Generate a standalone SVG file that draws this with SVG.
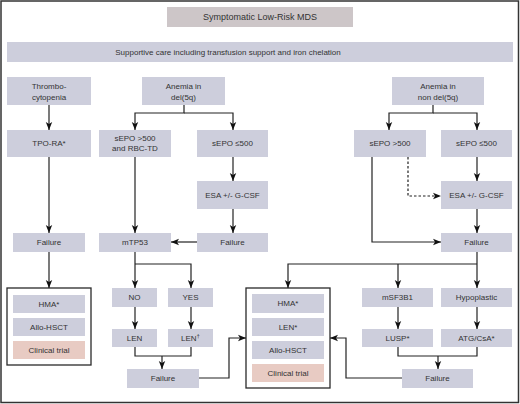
<svg xmlns="http://www.w3.org/2000/svg" width="520" height="404" viewBox="0 0 520 404">
<style>
.n{fill:#cdcedc}
.t{fill:#cdc6c8}
.p{fill:#e8cbc3}
.o{fill:#fff;stroke:#2a2a2a;stroke-width:1.3}
text{font-family:"Liberation Sans",Arial,sans-serif;font-size:8px;fill:#333;text-anchor:middle;dominant-baseline:central}
.c path{fill:none;stroke:#222;stroke-width:1.2}
.d{stroke-dasharray:2.5,2}
</style>
<defs>
<marker id="a" markerUnits="userSpaceOnUse" markerWidth="8" markerHeight="8" viewBox="0 0 8 8" refX="8" refY="4" orient="auto">
<path d="M0,0.8 L8,4 L0,7.2 L2,4 Z" fill="#111"/>
</marker>
</defs>
<rect x="1" y="1" width="517.5" height="401.5" fill="#fff" stroke="#333" stroke-width="1.5"/>
<g id="title"><rect class="t" x="167" y="7" width="186" height="20"/><text x="260" y="17" style="font-size:9px">Symptomatic Low-Risk MDS</text></g>
<g id="supportive"><rect class="n" x="7" y="42" width="506" height="20"/><text x="228" y="52">Supportive care including transfusion support and iron chelation</text></g>
<g id="thrombo"><rect class="n" x="7" y="77" width="84" height="28"/><text x="49" y="86">Thrombo-</text><text x="49" y="97">cytopenia</text></g>
<g id="anemia-del5q"><rect class="n" x="142" y="77" width="83" height="28"/><text x="183.5" y="86">Anemia in</text><text x="183.5" y="97">del(5q)</text></g>
<g id="anemia-nondel5q"><rect class="n" x="392" y="77" width="92" height="28"/><text x="438" y="86">Anemia in</text><text x="438" y="97">non del(5q)</text></g>
<g id="tpo"><rect class="n" x="7" y="130" width="84" height="27"/><text x="49" y="143.5">TPO-RA*</text></g>
<g id="sepo-high-del"><rect class="n" x="99" y="130" width="72" height="27"/><text x="135" y="138">sEPO &gt;500</text><text x="135" y="148">and RBC-TD</text></g>
<g id="sepo-low-del"><rect class="n" x="197" y="130" width="71" height="27"/><text x="232.5" y="143.5">sEPO ≤500</text></g>
<g id="sepo-high-non"><rect class="n" x="354" y="130" width="72" height="27"/><text x="390" y="143.5">sEPO &gt;500</text></g>
<g id="sepo-low-non"><rect class="n" x="441" y="130" width="71" height="27"/><text x="476.5" y="143.5">sEPO ≤500</text></g>
<g id="esa-del"><rect class="n" x="197" y="181" width="71" height="28"/><text x="232.5" y="195">ESA +/- G-CSF</text></g>
<g id="esa-non"><rect class="n" x="441" y="181" width="71" height="28"/><text x="476.5" y="195">ESA +/- G-CSF</text></g>
<g id="failure-thrombo"><rect class="n" x="13" y="233" width="72" height="19"/><text x="49" y="242.5">Failure</text></g>
<g id="mtp53"><rect class="n" x="99" y="233" width="72" height="19"/><text x="135" y="242.5">mTP53</text></g>
<g id="failure-del"><rect class="n" x="197" y="233" width="71" height="19"/><text x="232.5" y="242.5">Failure</text></g>
<g id="failure-non"><rect class="n" x="441" y="233" width="71" height="19"/><text x="476.5" y="242.5">Failure</text></g>
<g id="options-thrombo"><rect class="o" x="7" y="288" width="84" height="77"/>
<rect class="n" x="13" y="295" width="72" height="18"/><text x="49" y="304">HMA*</text>
<rect class="n" x="13" y="318" width="72" height="18"/><text x="49" y="327">Allo-HSCT</text>
<rect class="p" x="13" y="341" width="72" height="18"/><text x="49" y="350">Clinical trial</text></g>
<g id="no"><rect class="n" x="112" y="288" width="45" height="19"/><text x="134.5" y="297.5">NO</text></g>
<g id="yes"><rect class="n" x="168" y="288" width="45" height="19"/><text x="190.5" y="297.5">YES</text></g>
<g id="len"><rect class="n" x="112" y="329" width="45" height="18"/><text x="134.5" y="338">LEN</text></g>
<g id="len-dagger"><rect class="n" x="168" y="329" width="45" height="18"/><text x="190.5" y="338">LEN<tspan style="font-size:6px" dy="-2.5">†</tspan></text></g>
<g id="failure-len"><rect class="n" x="127" y="369" width="72" height="19"/><text x="163" y="378.5">Failure</text></g>
<g id="options-center"><rect class="o" x="246" y="288" width="84" height="100"/>
<rect class="n" x="252" y="294" width="72" height="19"/><text x="288" y="303.5">HMA*</text>
<rect class="n" x="252" y="318" width="72" height="18"/><text x="288" y="327">LEN*</text>
<rect class="n" x="252" y="341" width="72" height="18"/><text x="288" y="350">Allo-HSCT</text>
<rect class="p" x="252" y="364" width="72" height="18"/><text x="288" y="373">Clinical trial</text></g>
<g id="msf3b1"><rect class="n" x="362" y="288" width="71" height="19"/><text x="397.5" y="297.5">mSF3B1</text></g>
<g id="hypoplastic"><rect class="n" x="441" y="288" width="71" height="19"/><text x="476.5" y="297.5">Hypoplastic</text></g>
<g id="lusp"><rect class="n" x="362" y="329" width="71" height="18"/><text x="397.5" y="338">LUSP*</text></g>
<g id="atg"><rect class="n" x="441" y="329" width="71" height="18"/><text x="476.5" y="338">ATG/CsA*</text></g>
<g id="failure-right"><rect class="n" x="402" y="369" width="71" height="19"/><text x="437.5" y="378.5">Failure</text></g>
<g class="c" id="connectors">
<path d="M49,105 V130" marker-end="url(#a)"/>
<path d="M184,105 V113 H135 V130" marker-end="url(#a)"/>
<path d="M184,113 H233 V130" marker-end="url(#a)"/>
<path d="M433,105 V113 H389 V130" marker-end="url(#a)"/>
<path d="M433,113 H477 V130" marker-end="url(#a)"/>
<path d="M49,157 V233" marker-end="url(#a)"/>
<path d="M135,157 V233" marker-end="url(#a)"/>
<path d="M233,157 V181" marker-end="url(#a)"/>
<path d="M233,209 V233" marker-end="url(#a)"/>
<path d="M197,242 H171" marker-end="url(#a)"/>
<path d="M372,157 V242 H441" marker-end="url(#a)"/>
<path class="d" d="M408,157 V196 H441" marker-end="url(#a)"/>
<path d="M477,157 V181" marker-end="url(#a)"/>
<path d="M477,209 V233" marker-end="url(#a)"/>
<path d="M49,252 V288" marker-end="url(#a)"/>
<path d="M135,252 V288" marker-end="url(#a)"/>
<path d="M135,264 H191 V288" marker-end="url(#a)"/>
<path d="M135,307 V329" marker-end="url(#a)"/>
<path d="M191,307 V329" marker-end="url(#a)"/>
<path d="M135,347 V356 H191 V347"/>
<path d="M162,356 V369" marker-end="url(#a)"/>
<path d="M199,378 H229 V338 H246" marker-end="url(#a)"/>
<path d="M477,252 V288" marker-end="url(#a)"/>
<path d="M477,264 H288 V288" marker-end="url(#a)"/>
<path d="M398,264 V288" marker-end="url(#a)"/>
<path d="M398,307 V329" marker-end="url(#a)"/>
<path d="M477,307 V329" marker-end="url(#a)"/>
<path d="M398,347 V356 H477 V347"/>
<path d="M438,356 V369" marker-end="url(#a)"/>
<path d="M402,378 H346 V338 H330" marker-end="url(#a)"/>
</g>
</svg>
